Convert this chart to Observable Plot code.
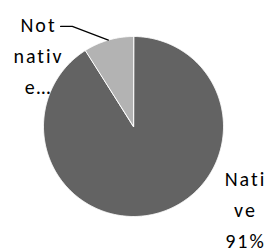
<!DOCTYPE html>
<html><head><meta charset="utf-8">
<script src="https://cdn.jsdelivr.net/npm/d3@7"></script>
<script src="https://cdn.jsdelivr.net/npm/@observablehq/plot@0.6"></script>
<style>html,body{margin:0;padding:0;background:#fff;overflow:hidden}</style>
</head><body><div id="chart"></div>
<script>
const categories = ["Native", "Not native"];
const values = [91, 9];
const labels = ["Nati\nve\n91%", "Not\nnativ\ne…"];
const colors = ["#636363", "#b3b3b3"];

const total = d3.sum(values);
const slices = [];
let start = 0;
categories.forEach((c, i) => {
  const a0 = start / total * 2 * Math.PI;
  const a1 = (start + values[i]) / total * 2 * Math.PI;
  start += values[i];
  const pts = [{cat: c, x: 0, y: 0}];
  const n = Math.max(2, Math.ceil((a1 - a0) / (Math.PI / 360)));
  for (let k = 0; k <= n; k++) {
    const a = a0 + (a1 - a0) * k / n;
    pts.push({cat: c, x: Math.sin(a), y: Math.cos(a)});
  }
  slices.push({cat: c, a0, a1, mid: (a0 + a1) / 2, pts});
});
const poly = slices.flatMap(s => s.pts);
const nn = slices[1];
const leader = [
  {x: Math.sin(nn.mid), y: Math.cos(nn.mid)},
  {x: -0.68, y: 1.112},
  {x: -0.81, y: 1.112}
];

const font = "Carlito, Calibri, Lato, sans-serif";
const fs = 20, lh = 1.55;
const chart = Plot.plot({
  width: 267, height: 249,
  margin: 0,
  style: {fontFamily: font, background: "#fff"},
  x: {domain: [-1, 1], range: [43, 223], axis: null},
  y: {domain: [-1, 1], range: [216, 36], axis: null},
  color: {domain: categories, range: colors},
  marks: [
    Plot.line(poly, {x: "x", y: "y", z: "cat", fill: "cat", stroke: "#fff", strokeWidth: 1, curve: "linear-closed"}),
    Plot.line(leader, {x: "x", y: "y", stroke: "#000", strokeWidth: 1.2}),
    Plot.text([labels[1]], {frameAnchor: "top-left", dx: 38, dy: 53, text: d => d, fontSize: fs, lineHeight: lh, textAnchor: "middle", lineAnchor: "middle", fill: "#000"}),
    Plot.text([labels[0]], {frameAnchor: "top-left", dx: 245, dy: 207, text: d => d, fontSize: fs, lineHeight: lh, textAnchor: "middle", lineAnchor: "middle", fill: "#000"})
  ]
});
chart.querySelectorAll("text").forEach(t => t.setAttribute("letter-spacing", "2"));
document.getElementById("chart").append(chart);
</script></body></html>
